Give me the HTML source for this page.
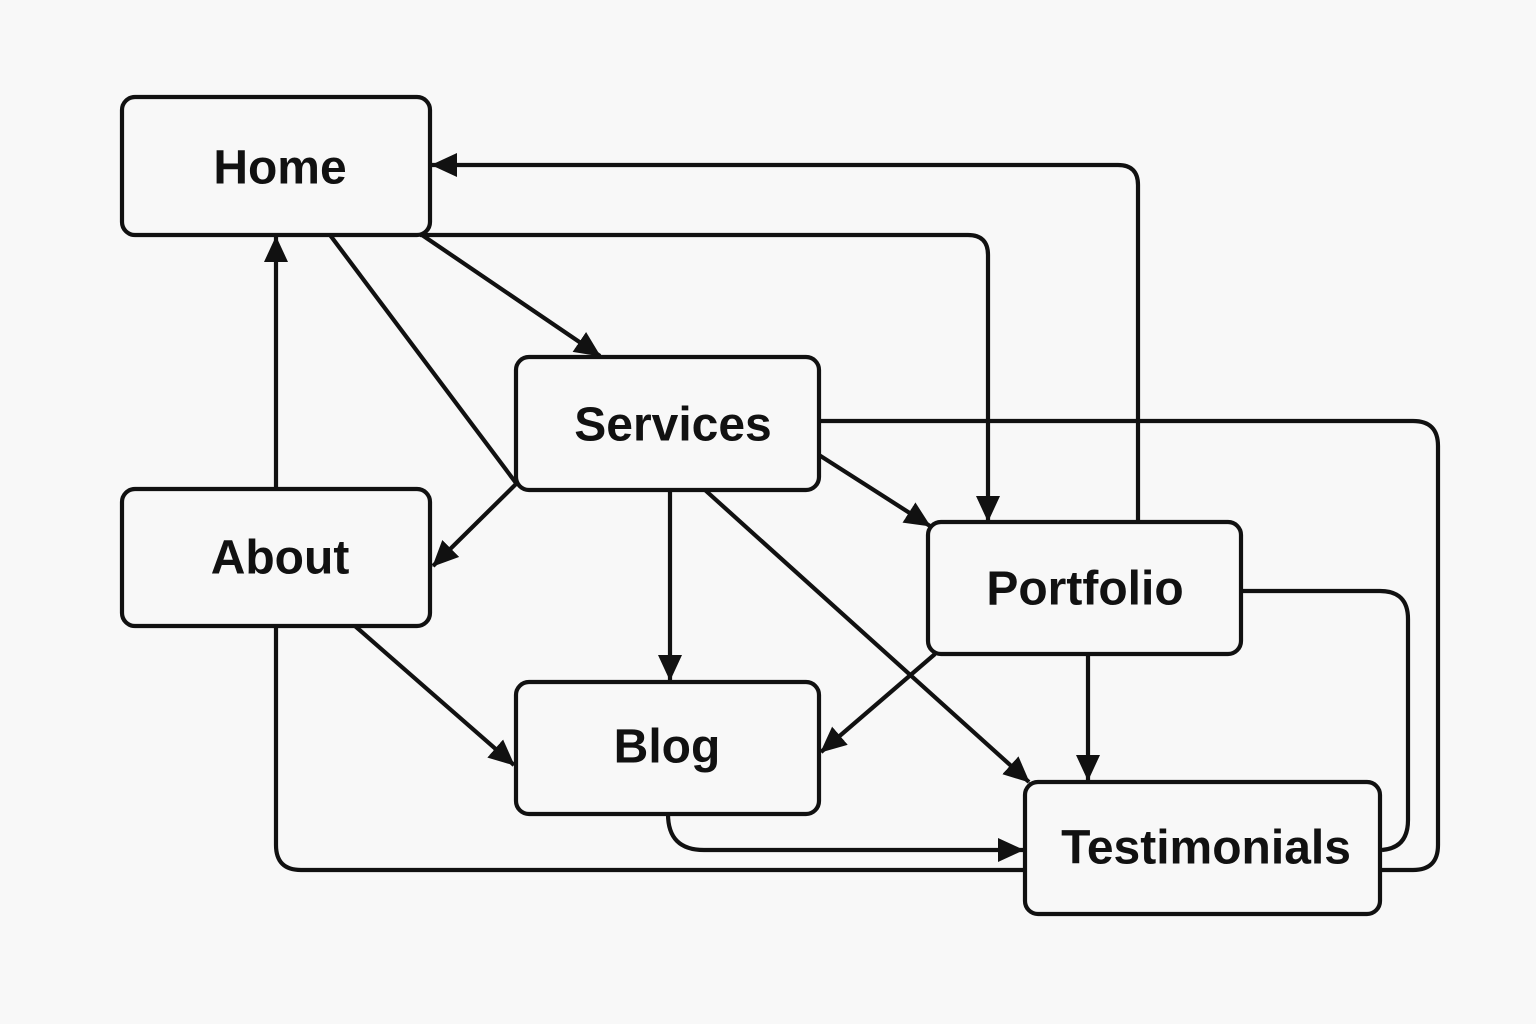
<!DOCTYPE html>
<html><head><style>
html,body{margin:0;padding:0;background:#f8f8f8;}
svg{display:block}
text{font-family:"Liberation Sans",sans-serif;font-weight:bold;font-size:48px;fill:#111;text-anchor:middle;dominant-baseline:central}
</style></head><body>
<svg width="1536" height="1024" viewBox="0 0 1536 1024">
<defs>
<marker id="ar" viewBox="0 0 26 24" refX="25" refY="12" markerWidth="26" markerHeight="24" orient="auto" markerUnits="userSpaceOnUse">
<path d="M0,0 L26,12 L0,24 Z" fill="#111"/>
</marker>
</defs>
<g fill="none" stroke="#111" stroke-width="4.2" stroke-linejoin="round">
<path d="M1138,522 V185 Q1138,165 1118,165 H432" marker-end="url(#ar)"/>
<path d="M420,235 H968 Q988,235 988,255 V521" marker-end="url(#ar)"/>
<path d="M422,235 L600,356" marker-end="url(#ar)"/>
<path d="M330,235 L516,483"/>
<path d="M276,489 V237" marker-end="url(#ar)"/>
<path d="M516,484 L433,566" marker-end="url(#ar)"/>
<path d="M670,490 V680" marker-end="url(#ar)"/>
<path d="M819,455 L930,526" marker-end="url(#ar)"/>
<path d="M705,490 L1029,782" marker-end="url(#ar)"/>
<path d="M819,421 H1413 Q1438,421 1438,446 V845 Q1438,870 1413,870 H1380"/>
<path d="M1241,591 H1380 Q1408,591 1408,619 V820 Q1408,848 1382,850"/>
<path d="M1088,654 V780" marker-end="url(#ar)"/>
<path d="M935,654 L821,752" marker-end="url(#ar)"/>
<path d="M355,626 L514,765" marker-end="url(#ar)"/>
<path d="M668,814 Q668,850 704,850 H1023" marker-end="url(#ar)"/>
<path d="M276,626 V845 Q276,870 301,870 H1025"/>
<rect x="122" y="97" width="308" height="138" rx="13" fill="#f8f8f8"/>
<rect x="122" y="489" width="308" height="137" rx="13" fill="#f8f8f8"/>
<rect x="516" y="357" width="303" height="133" rx="13" fill="#f8f8f8"/>
<rect x="516" y="682" width="303" height="132" rx="13" fill="#f8f8f8"/>
<rect x="928" y="522" width="313" height="132" rx="13" fill="#f8f8f8"/>
<rect x="1025" y="782" width="355" height="132" rx="13" fill="#f8f8f8"/>
</g>
<text x="280" y="168">Home</text>
<text x="280" y="558">About</text>
<text x="673" y="425">Services</text>
<text x="667" y="747">Blog</text>
<text x="1085" y="589">Portfolio</text>
<text x="1206" y="848">Testimonials</text>
</svg>
</body></html>
